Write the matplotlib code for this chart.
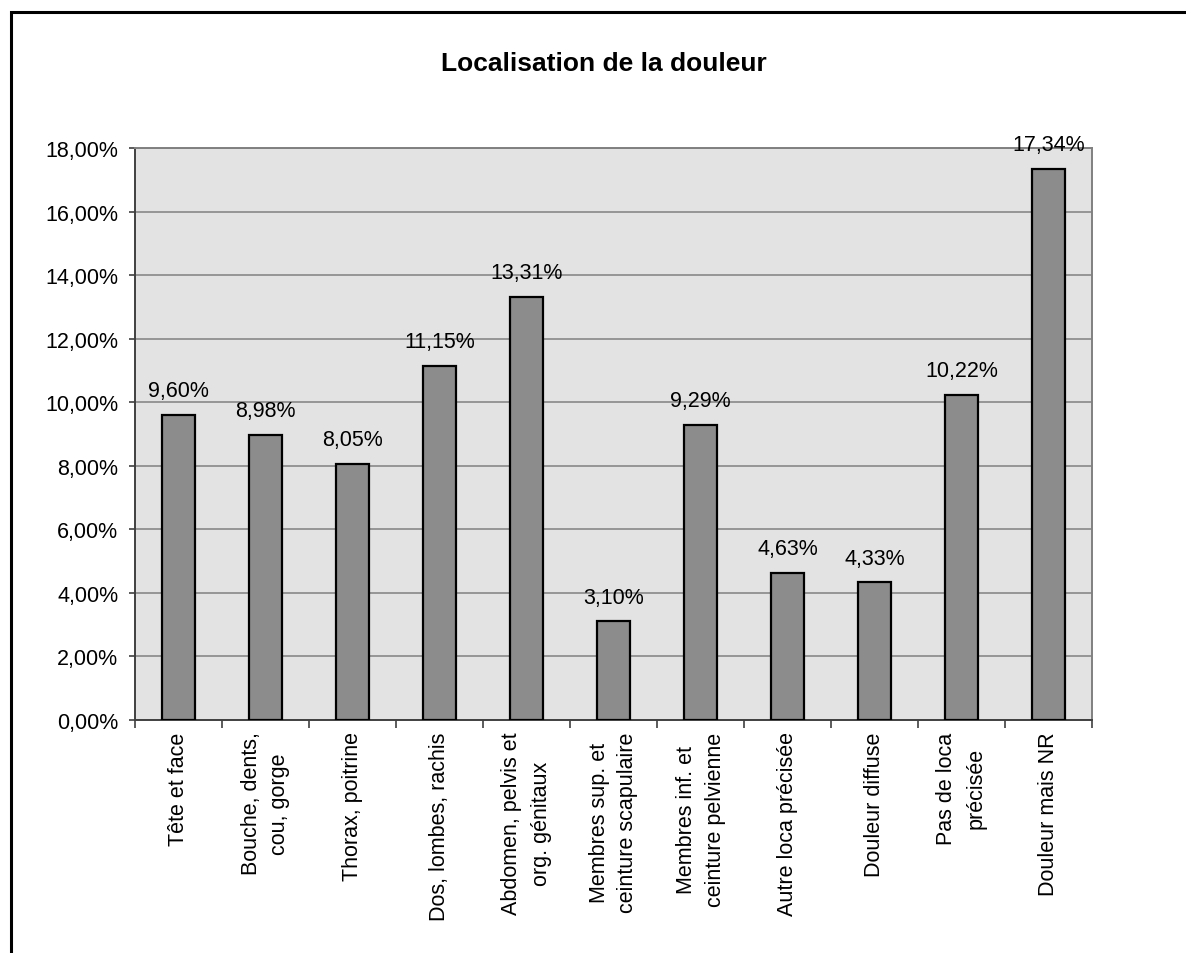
import matplotlib
matplotlib.use('Agg')
import matplotlib.pyplot as plt
import matplotlib.ticker as ticker
from matplotlib.patches import Rectangle

plt.rcParams['font.family'] = ['Liberation Sans', 'DejaVu Sans']

categories = [
    "Tête et face",
    "Bouche, dents,\ncou, gorge",
    "Thorax, poitrine",
    "Dos, lombes, rachis",
    "Abdomen, pelvis et\norg. génitaux",
    "Membres sup. et\nceinture scapulaire",
    "Membres inf. et\nceinture pelvienne",
    "Autre loca précisée",
    "Douleur diffuse",
    "Pas de loca\nprécisée",
    "Douleur mais NR",
]
values = [9.60, 8.98, 8.05, 11.15, 13.31, 3.10, 9.29, 4.63, 4.33, 10.22, 17.34]
y_ticks = [0, 2, 4, 6, 8, 10, 12, 14, 16, 18]

W, H = 1186, 954
fig = plt.figure(figsize=(W / 100, H / 100), dpi=100)

# chart-area frame (only top and left edges are inside the picture)
fig.patches.append(Rectangle((11 / W, -0.1), 1.2, 1.1 - 13 / H,
                             transform=fig.transFigure, fill=False,
                             edgecolor='black', linewidth=2.2, zorder=0))

ax = fig.add_axes([135 / W, 1 - 721 / H, (1092 - 135) / W, (721 - 149) / H])
ax.set_facecolor('#e3e3e3')

x = list(range(len(values)))
ax.bar(x, values, width=0.39, color='#8c8c8c', edgecolor='black',
       linewidth=1.6, zorder=3)

for xi, v in zip(x, values):
    ax.annotate(f"{v:.2f}%".replace('.', ','), (xi, v), xytext=(0, 10),
                textcoords='offset points', ha='center', va='bottom',
                fontsize=15.5, zorder=4)

ax.set_xlim(-0.5, len(values) - 0.5)
ax.set_ylim(0, 18)
ax.set_yticks(y_ticks)
ax.yaxis.set_major_formatter(ticker.FuncFormatter(
    lambda v, p: f"{v:.2f}%".replace('.', ',')))
ax.tick_params(axis='y', labelsize=15.5, direction='out', length=4,
               width=1.2, color='#404040', pad=8)
ax.grid(axis='y', color='#808080', linewidth=1.1, zorder=1)

ax.set_xticks([i - 0.5 for i in range(len(values) + 1)])
ax.set_xticklabels([])
ax.tick_params(axis='x', direction='out', length=6, width=1.2, color='#404040')

for xi, lab in zip(x, categories):
    ax.text(xi, -0.02, lab, transform=ax.get_xaxis_transform(),
            rotation=90, ha='center', va='top', multialignment='center',
            fontsize=15.5, linespacing=1.5)

ax.spines['left'].set_color('#404040')
ax.spines['left'].set_linewidth(1.4)
ax.spines['bottom'].set_color('#404040')
ax.spines['bottom'].set_linewidth(1.4)
ax.spines['top'].set_color('#808080')
ax.spines['top'].set_linewidth(1.4)
ax.spines['right'].set_color('#808080')
ax.spines['right'].set_linewidth(1.4)

fig.text(604 / W, 1 - 64 / H, "Localisation de la douleur", ha='center',
         va='center', fontsize=19, fontweight='bold')

fig.savefig('out.png', dpi=100)
